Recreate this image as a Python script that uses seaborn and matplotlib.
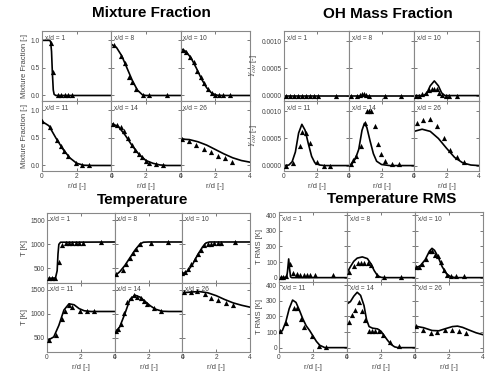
import matplotlib
matplotlib.use("Agg")
import matplotlib.pyplot as plt
import seaborn as sns

sns.set_style("ticks")
plt.rcParams["font.family"] = ["Liberation Sans", "DejaVu Sans"]
plt.rcParams["mathtext.fontset"] = "stix"
plt.rcParams["xtick.direction"] = "in"
plt.rcParams["ytick.direction"] = "in"

# -------------------
# Data
# -------------------
stations = [1, 8, 10, 11, 14, 26]

# Mixture fraction: model line + measured points
mix_line_r = [
    [0, 0.45, 0.5, 0.55, 0.6, 0.65, 0.7, 0.8, 4],
    [0, 0.3, 0.6, 0.9, 1.2, 1.5, 1.8, 2.0, 4],
    [0, 0.3, 0.6, 0.9, 1.2, 1.5, 1.8, 2.1, 2.4, 4],
    [0, 0.4, 0.8, 1.2, 1.6, 2.0, 2.4, 2.8, 4],
    [0, 0.4, 0.8, 1.2, 1.6, 2.0, 2.4, 2.8, 3.2, 4],
    [0, 0.5, 1.0, 1.5, 2.0, 2.5, 3.0, 3.5, 4],
]
mix_line_v = [
    [1.0, 1.0, 0.97, 0.8, 0.4, 0.1, 0.02, 0.0, 0.0],
    [0.93, 0.87, 0.72, 0.5, 0.28, 0.1, 0.01, 0.0, 0.0],
    [0.85, 0.8, 0.68, 0.5, 0.3, 0.14, 0.04, 0.005, 0.0, 0.0],
    [0.8, 0.72, 0.5, 0.3, 0.14, 0.04, 0.005, 0.0, 0.0],
    [0.76, 0.71, 0.55, 0.36, 0.2, 0.09, 0.04, 0.01, 0.0, 0.0],
    [0.48, 0.47, 0.43, 0.37, 0.29, 0.21, 0.14, 0.09, 0.06],
]
mix_pts_r = [
    [0.52, 0.65, 0.9, 1.1, 1.3, 1.5, 1.75],
    [0.13, 0.54, 0.77, 1.0, 1.19, 1.4, 1.8, 2.2, 3.2],
    [0.13, 0.33, 0.56, 0.75, 0.96, 1.15, 1.35, 1.58, 1.8, 2.0, 2.2, 2.45, 2.85],
    [0.0, 0.44, 0.87, 1.08, 1.27, 1.5, 1.95, 2.33, 2.7],
    [0.12, 0.31, 0.54, 0.73, 0.96, 1.19, 1.38, 1.58, 1.79, 2.0, 2.2, 2.6, 3.0],
    [0.08, 0.5, 0.9, 1.33, 1.73, 2.15, 2.55, 2.98],
]
mix_pts_v = [
    [0.96, 0.42, 0.0, 0.0, 0.0, 0.0, 0.0],
    [0.92, 0.72, 0.59, 0.33, 0.24, 0.11, 0.0, 0.0, 0.0],
    [0.83, 0.79, 0.69, 0.6, 0.45, 0.34, 0.23, 0.11, 0.04, 0.0, 0.0, 0.0, 0.0],
    [0.8, 0.7, 0.47, 0.36, 0.26, 0.17, 0.04, 0.0, 0.0],
    [0.75, 0.73, 0.7, 0.62, 0.5, 0.38, 0.29, 0.21, 0.15, 0.09, 0.05, 0.02, 0.0],
    [0.48, 0.45, 0.38, 0.3, 0.25, 0.18, 0.13, 0.07],
]

# OH mass fraction
oh_line_r = [
    [0, 4],
    [0, 4],
    [0, 0.6, 0.8, 1.0, 1.25, 1.5, 1.7, 1.9, 4],
    [0, 0.3, 0.5, 0.7, 0.9, 1.1, 1.3, 1.5, 1.7, 1.9, 2.2, 2.5, 4],
    [0, 0.2, 0.4, 0.6, 0.8, 0.95, 1.1, 1.3, 1.5, 1.7, 2.0, 2.5, 4],
    [0, 0.5, 1.0, 1.5, 2.0, 2.5, 3.0, 3.5, 4],
]
oh_line_v = [
    [0.0, 0.0],
    [0.0, 0.0],
    [0.0, 0.0, 0.00005, 0.00018, 0.00027, 0.00018, 0.00005, 0.0, 0.0],
    [0.0, 0.00001, 0.00007, 0.00025, 0.0006, 0.00076, 0.00065, 0.0004,
     0.00017, 0.00005, 0.00001, 0.0, 0.0],
    [0.0, 0.00004, 0.00013, 0.0003, 0.00065, 0.00078, 0.0007, 0.00045,
     0.00022, 0.00008, 0.00002, 0.0, 0.0],
    [0.00063, 0.00067, 0.00063, 0.0005, 0.00032, 0.00015, 0.00005, 0.00001, 0.0],
]
oh_pts_r = [
    [0.1, 0.35, 0.6, 0.85, 1.1, 1.35, 1.6, 1.85, 2.1, 3.2],
    [0.14, 0.49, 0.7, 0.82, 0.94, 1.07, 1.21, 2.19, 3.2],
    [0.1, 0.3, 0.5, 0.72, 0.92, 1.09, 1.23, 1.4, 1.54, 1.74, 1.97, 2.17, 2.63],
    [0.1, 0.55, 0.96, 1.13, 1.37, 1.62, 2.03, 2.44, 2.85],
    [0.1, 0.25, 0.41, 0.72, 0.96, 1.1, 1.23, 1.35, 1.58, 1.79, 1.99, 2.2, 2.65, 3.06],
    [0.16, 0.57, 0.98, 1.39, 1.85, 2.22, 2.67, 3.08],
]
oh_pts_v = [
    [0.0, 0.0, 0.0, 0.0, 0.0, 0.0, 0.0, 0.0, 0.0, 0.0],
    [0.0, 0.0, 0.00001, 0.00002, 0.00002, 0.00001, 0.0, 0.0, 0.0],
    [0.0, 0.0, 0.00002, 0.00005, 0.0001, 0.00013, 0.00013, 0.00012,
     0.00004, 0.00001, 0.0, 0.0, 0.0],
    [0.0, 0.00005, 0.00036, 0.00062, 0.0006, 0.00041, 0.00006, 0.0, 0.0],
    [0.00003, 0.0001, 0.00017, 0.00036, 0.00079, 0.001, 0.001, 0.001,
     0.00073, 0.0004, 0.00021, 0.00008, 0.00002, 0.00002],
    [0.00078, 0.00084, 0.00086, 0.00073, 0.0005, 0.00029, 0.00015, 0.00007],
]

# Temperature [K]
t_line_r = [
    [0, 0.5, 0.6, 0.65, 0.7, 0.8, 4],
    [0, 0.3, 0.6, 0.9, 1.2, 1.5, 1.7, 2.0, 4],
    [0, 0.3, 0.6, 0.9, 1.2, 1.4, 1.6, 4],
    [0, 0.4, 0.7, 1.0, 1.3, 1.6, 1.9, 2.2, 2.6, 4],
    [0, 0.3, 0.6, 0.9, 1.2, 1.5, 1.8, 2.1, 2.4, 2.8, 3.2, 4],
    [0, 0.5, 1.0, 1.5, 2.0, 2.5, 3.0, 3.5, 4],
]
t_line_v = [
    [290, 300, 450, 800, 1000, 1045, 1050],
    [340, 430, 560, 720, 880, 1010, 1045, 1050, 1050],
    [390, 440, 580, 780, 950, 1030, 1050, 1050],
    [440, 520, 760, 1080, 1210, 1190, 1110, 1065, 1050, 1050],
    [600, 730, 1000, 1300, 1390, 1350, 1260, 1170, 1100, 1055, 1050, 1050],
    [1440, 1455, 1465, 1440, 1380, 1300, 1230, 1180, 1140],
]
t_pts_r = [
    [0.1, 0.3, 0.5, 0.7, 0.9, 1.1, 1.3, 1.5, 1.7, 1.9, 2.1, 3.2],
    [0.08, 0.47, 0.69, 0.88, 1.08, 1.25, 1.51, 2.16, 3.18],
    [0.0, 0.14, 0.33, 0.53, 0.73, 0.92, 1.12, 1.31, 1.51, 1.7, 1.9, 2.1, 2.3, 3.1],
    [0.1, 0.53, 0.89, 1.08, 1.28, 1.48, 1.93, 2.36, 2.8],
    [0.06, 0.2, 0.35, 0.55, 0.75, 0.95, 1.14, 1.34, 1.54, 1.73, 1.93, 2.33, 2.72],
    [0.1, 0.49, 0.89, 1.32, 1.71, 2.13, 2.56, 2.99],
]
t_pts_v = [
    [290, 290, 310, 640, 990, 1020, 1030, 1035, 1035, 1035, 1035, 1040],
    [375, 465, 590, 708, 820, 900, 1005, 1035, 1055],
    [400, 430, 486, 590, 695, 800, 890, 990, 1007, 1015, 1020, 1025, 1030, 1040],
    [458, 563, 894, 1070, 1176, 1140, 1070, 1056, 1056],
    [634, 690, 789, 1020, 1250, 1338, 1394, 1359, 1324, 1268, 1211, 1127, 1056],
    [1458, 1465, 1479, 1422, 1324, 1289, 1232, 1176],
]

# Temperature RMS [K]
rms_line_r = [
    [0, 0.45, 0.5, 0.57, 0.62, 0.68, 0.75, 4],
    [0, 0.2, 0.4, 0.6, 0.9, 1.2, 1.4, 1.6, 1.8, 2.0, 2.2, 4],
    [0, 0.3, 0.6, 0.85, 1.0, 1.15, 1.35, 1.6, 1.85, 2.1, 2.4, 4],
    [0, 0.2, 0.4, 0.6, 0.8, 1.0, 1.2, 1.4, 1.6, 1.8, 2.0, 2.2, 2.4, 2.7, 4],
    [0, 0.2, 0.4, 0.6, 0.8, 1.0, 1.15, 1.3, 1.5, 1.8, 2.0, 2.2, 2.4, 2.6, 2.8, 3.0, 4],
    [0, 0.5, 1.0, 1.4, 1.8, 2.2, 2.5, 2.8, 3.2, 3.6, 4],
]
rms_line_v = [
    [0, 2, 40, 120, 60, 5, 0, 0],
    [30, 70, 105, 125, 133, 122, 90, 45, 12, 2, 0, 0],
    [62, 75, 115, 170, 188, 175, 135, 70, 25, 5, 0, 0],
    [90, 110, 165, 250, 305, 290, 240, 185, 140, 110, 75, 40, 15, 0, 0],
    [280, 295, 330, 355, 335, 270, 180, 135, 125, 120, 105, 75, 45, 20, 5, 0, 0],
    [138, 128, 110, 108, 122, 135, 138, 130, 112, 95, 83],
]
rms_pts_r = [
    [0.1, 0.25, 0.4, 0.65, 0.85, 1.05, 1.25, 1.45, 1.65, 1.85, 2.1, 3.2],
    [0.1, 0.43, 0.63, 0.82, 1.02, 1.22, 1.41, 1.76, 2.2, 3.2],
    [0.08, 0.24, 0.43, 0.63, 0.86, 1.02, 1.18, 1.37, 1.51, 1.71, 1.9, 2.1, 2.4, 2.88],
    [0.04, 0.43, 0.86, 1.06, 1.27, 1.47, 1.96, 2.35, 2.75],
    [0.1, 0.29, 0.49, 0.69, 0.88, 1.08, 1.27, 1.47, 1.67, 1.86, 2.12, 2.55, 3.04],
    [0.08, 0.49, 0.92, 1.31, 1.75, 2.16, 2.6, 3.02],
]
rms_pts_v = [
    [3, 3, 8, 90, 30, 22, 17, 15, 15, 15, 15, 18],
    [36, 75, 96, 96, 96, 96, 80, 15, 6, 6],
    [66, 70, 86, 117, 169, 173, 147, 141, 100, 47, 19, 8, 8, 8],
    [105, 158, 257, 257, 185, 131, 74, 10, 6],
    [164, 210, 242, 295, 236, 179, 109, 109, 105, 109, 84, 36, 10],
    [137, 116, 95, 99, 112, 116, 109, 95],
]

# -------------------
# Layout helpers
# -------------------
W, H = 502, 379
GRAY = "#444444"


def group_axes(fig, left, right, top, bottom):
    axes = []
    pw = (right - left) / 3.0
    ph = (bottom - top) / 2.0
    for row in range(2):
        for col in range(3):
            x0 = left + col * pw
            y0 = top + (row + 1) * ph
            ax = fig.add_axes([x0 / W, 1 - y0 / H, pw / W, ph / H])
            axes.append((ax, row, col))
    return axes


def draw_group(fig, box, title, title_xy, line_r, line_v, pts_r, pts_v,
               ylim, yticks, yticklabels, ylabel):
    for i, (ax, row, col) in enumerate(group_axes(fig, *box)):
        sns.lineplot(x=line_r[i], y=line_v[i], ax=ax, color="black",
                     linewidth=1.2, sort=False)
        sns.scatterplot(x=pts_r[i], y=pts_v[i], ax=ax, marker="^", color="black",
                        s=14, linewidth=0, zorder=3)
        ax.set_xlim(0, 4)
        ax.set_ylim(*ylim)
        ax.set_xticks([0, 2, 4])
        ax.set_yticks(yticks)
        ax.tick_params(which="both", top=True, right=True, length=2,
                       width=0.5, labelsize=4.8, pad=1.5, colors=GRAY)
        for sp in ax.spines.values():
            sp.set_color("#888888")
            sp.set_linewidth(0.8)
        if row == 1:
            ax.set_xticklabels(["0", "2", "4"])
            ax.set_xlabel("r/d [-]", fontsize=5.5, color=GRAY, labelpad=2)
        else:
            ax.set_xticklabels([])
        if col == 0:
            ax.set_yticklabels(yticklabels)
            ax.set_ylabel(ylabel, fontsize=5.5, color=GRAY, labelpad=2)
        else:
            ax.set_yticklabels([])
        ax.text(0.04, 0.95, f"x/d = {stations[i]}", transform=ax.transAxes,
                fontsize=4.8, color=GRAY, va="top", ha="left")
    fig.text(title_xy[0] / W, 1 - title_xy[1] / H, title, fontsize=11,
             fontweight="bold", ha="center", va="center", color="black")


fig = plt.figure(figsize=(W / 100, H / 100), dpi=100)

draw_group(fig, (42, 250, 31, 171), "Mixture Fraction", (151, 13),
           mix_line_r, mix_line_v, mix_pts_r, mix_pts_v,
           (-0.1, 1.17), [0.0, 0.5, 1.0], ["0.0", "0.5", "1.0"],
           "Mixture Fraction [-]")

draw_group(fig, (284, 479, 31, 171), "OH Mass Fraction", (388, 14),
           oh_line_r, oh_line_v, oh_pts_r, oh_pts_v,
           (-0.0001, 0.00119), [0.0, 0.0005, 0.001],
           ["0.0000", "0.0005", "0.0010"], r"$Y_{OH}$ [-]")

draw_group(fig, (47, 250, 213, 352), "Temperature", (143, 200),
           t_line_r, t_line_v, t_pts_r, t_pts_v,
           (206, 1654), [500, 1000, 1500], ["500", "1000", "1500"], "T [K]")

draw_group(fig, (279, 483, 212, 352), "Temperature RMS", (392, 199),
           rms_line_r, rms_line_v, rms_pts_r, rms_pts_v,
           (-28, 421), [0, 100, 200, 300, 400],
           ["0", "100", "200", "300", "400"], "T RMS [K]")

fig.savefig("out.png", dpi=100)
